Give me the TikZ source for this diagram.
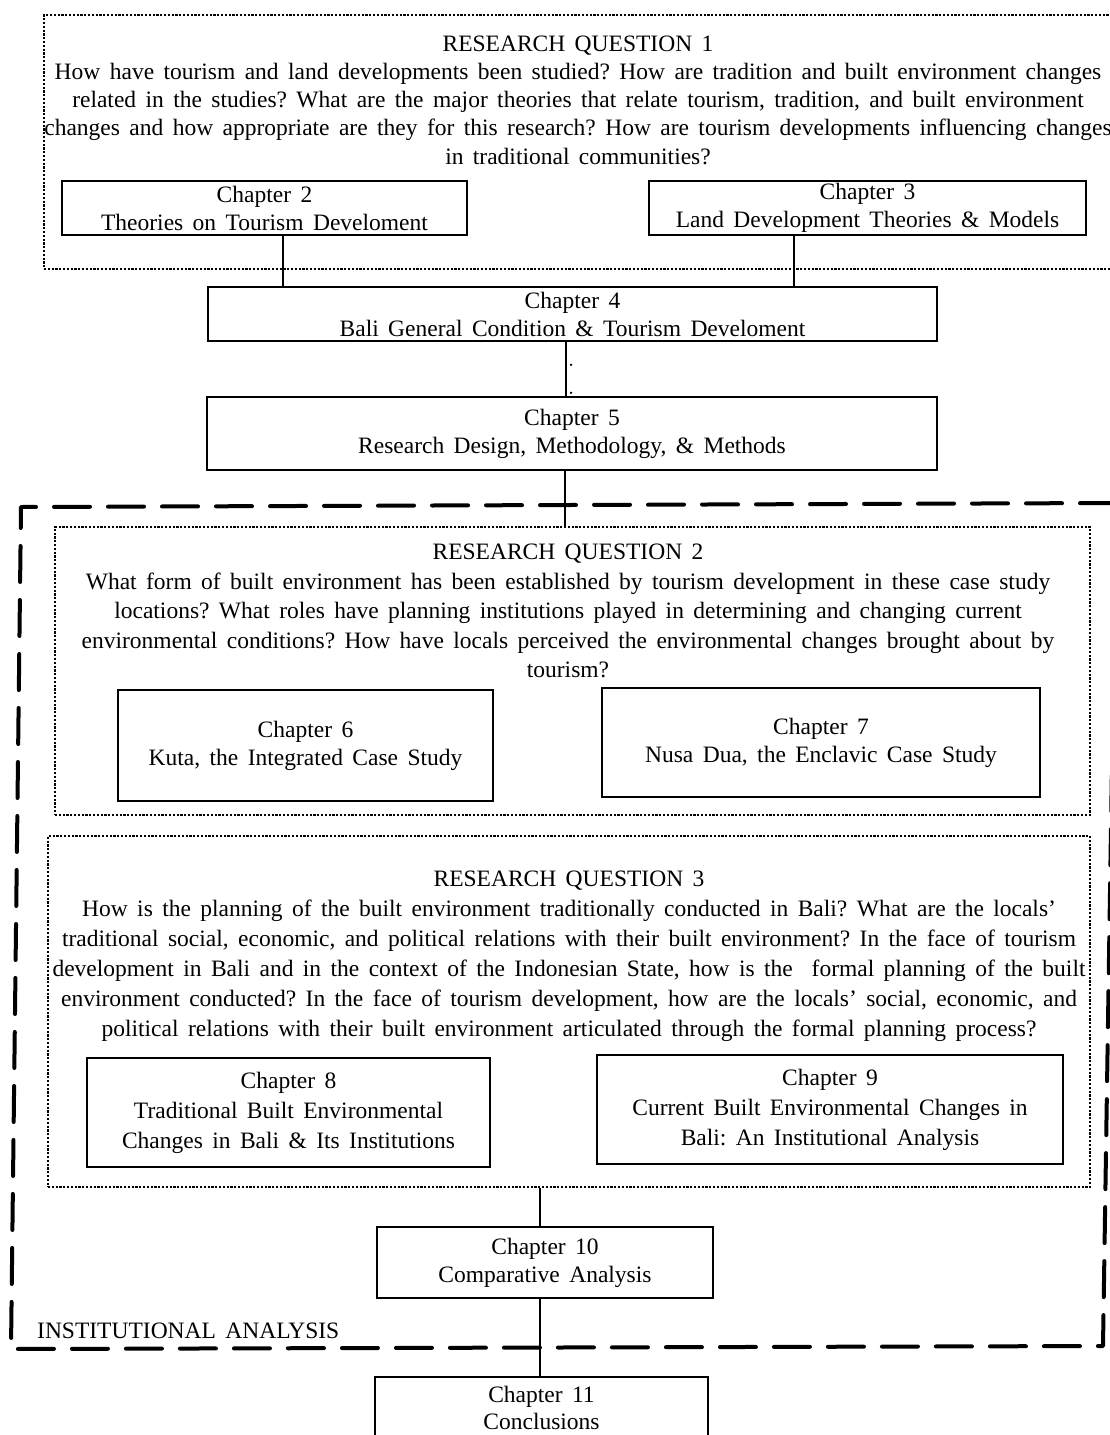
\documentclass[tikz,border=0pt]{standalone}
\usepackage{fontspec}
\setmainfont{Liberation Serif}[WordSpace=1.6]
\usetikzlibrary{calc}
\begin{document}
\frenchspacing
\begin{tikzpicture}[x=1pt,y=-1pt,
  chap/.style={draw, line width=1.6pt, rectangle, inner sep=0pt, align=center,
               font=\fontsize{23.5}{28}\selectfont},
  rqbox/.style={draw, line width=1.1pt, dash pattern=on 2.2pt off 1.6pt, rectangle, inner sep=0pt},
  para/.style={align=center, inner sep=0pt},
  link/.style={line width=1.4pt},
  outerline/.style={line width=4pt, dash pattern=on 36pt off 18pt, line cap=round, line join=round}]
\useasboundingbox (0,0) rectangle (1109,1435);

% ---- Research question 1 ----
\node[rqbox, minimum width=1076pt, minimum height=254pt] (rq1) at (582,142) {};
\node[para, font=\fontsize{23.5}{28.3}\selectfont] (q1) at (578,100)
  {RESEARCH QUESTION 1\\
   How have tourism and land developments been studied? How are tradition and built environment changes\\
   related in the studies? What are the major theories that relate tourism, tradition, and built environment\\
   changes and how appropriate are they for this research? How are tourism developments influencing changes\\
   in traditional communities?};
\node[chap, minimum width=405pt, minimum height=54pt] (ch2) at (264.5,208)
  {Chapter 2\\Theories on Tourism Develoment};
\node[chap, minimum width=437pt, minimum height=54pt] (ch3) at (867.5,208)
  {Chapter 3\\Land Development Theories \& Models};

% ---- Chapters 4 and 5 ----
\node[chap, minimum width=729pt, minimum height=54pt] (ch4) at (572.5,314)
  {Chapter 4\\Bali General Condition \& Tourism Develoment};
\node[chap, minimum width=730pt, minimum height=73pt] (ch5) at (572,433.5)
  {Chapter 5\\Research Design, Methodology, \& Methods};

% ---- Institutional analysis frame ----
\draw[outerline] (1116,503) -- (21,507) -- (11,1349) -- (1103,1346) -- (1116,503);
\node[font=\fontsize{23.5}{23.5}\selectfont, anchor=west, inner sep=0pt] (inst) at (37,1331)
  {INSTITUTIONAL ANALYSIS};

% ---- Research question 2 ----
\node[rqbox, minimum width=1035pt, minimum height=288pt] (rq2) at (572.5,671) {};
\node[para, font=\fontsize{23.5}{29.5}\selectfont] (q2) at (568,611)
  {RESEARCH QUESTION 2\\
   What form of built environment has been established by tourism development in these case study\\
   locations? What roles have planning institutions played in determining and changing current\\
   environmental conditions? How have locals perceived the environmental changes brought about by\\
   tourism?};
\node[chap, minimum width=375pt, minimum height=111pt] (ch6) at (305.5,745.5)
  {Chapter 6\\Kuta, the Integrated Case Study};
\node[chap, minimum width=438pt, minimum height=109pt] (ch7) at (821,742.5)
  {Chapter 7\\Nusa Dua, the Enclavic Case Study};

% ---- Research question 3 ----
\node[rqbox, minimum width=1042pt, minimum height=351pt] (rq3) at (569,1011.5) {};
\node[para, font=\fontsize{23.5}{30}\selectfont] (q3) at (569,956)
  {RESEARCH QUESTION 3\\
   How is the planning of the built environment traditionally conducted in Bali? What are the locals'\\
   traditional social, economic, and political relations with their built environment? In the face of tourism\\
   development in Bali and in the context of the Indonesian State, how is the\ \ formal planning of the built\\
   environment conducted? In the face of tourism development, how are the locals' social, economic, and\\
   political relations with their built environment articulated through the formal planning process?};
\node[chap, minimum width=403pt, minimum height=109pt, font=\fontsize{23.5}{30}\selectfont] (ch8) at (288.5,1112.5)
  {Chapter 8\\Traditional Built Environmental\\Changes in Bali \& Its Institutions};
\node[chap, minimum width=466pt, minimum height=109pt, font=\fontsize{23.5}{30}\selectfont] (ch9) at (830,1109.5)
  {Chapter 9\\Current Built Environmental Changes in\\Bali: An Institutional Analysis};

% ---- Chapters 10 and 11 ----
\node[chap, minimum width=336pt, minimum height=71pt] (ch10) at (545,1262.5)
  {Chapter 10\\Comparative Analysis};
\node[chap, minimum width=333pt, minimum height=63pt, anchor=north,
      font=\fontsize{23.5}{27}\selectfont] (ch11) at (541.5,1376)
  {Chapter 11\\Conclusions};

% ---- Connectors ----
\draw[link] (ch2.south) ++(18.5,0) coordinate (c2) -- (c2 |- ch4.north);
\draw[link] (ch3.south) ++(-73.5,0) coordinate (c3) -- (c3 |- ch4.north);
\draw[link] (ch4.south) ++(-6.5,0) coordinate (c4) -- (c4 |- ch5.north);
\draw[link] (ch5.south) ++(-7,0) coordinate (c5) -- (c5 |- rq2.north);
\draw[link] (ch10.north) ++(-5,0) coordinate (c9) -- (c9 |- rq3.south);
\draw[link] (ch10.south) ++(-5,0) coordinate (c10) -- (c10 |- ch11.north);
\fill ($(c4)+(5,23)$) circle (1.3);
\fill ($(c4)+(5,51)$) circle (1.3);
\end{tikzpicture}
\end{document}
